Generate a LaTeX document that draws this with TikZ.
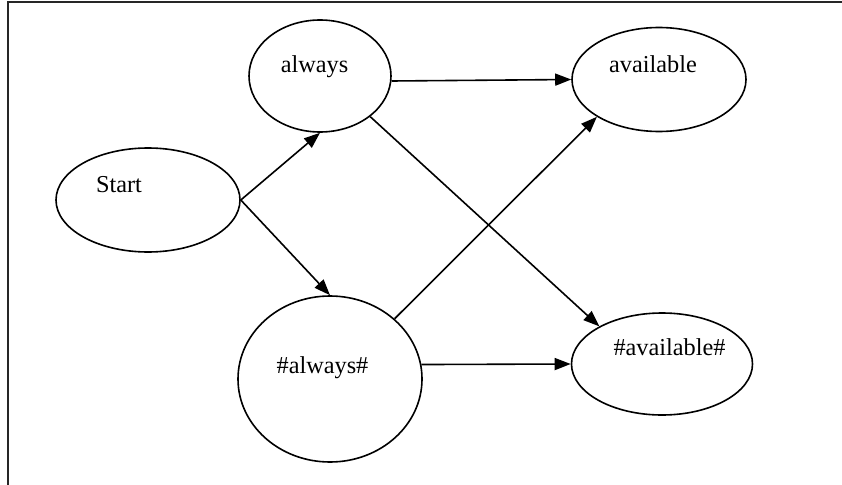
\documentclass[tikz,border=0pt]{standalone}
\usepackage{fontspec}
\setmainfont{Liberation Serif}
\usetikzlibrary{shapes.geometric,arrows.meta}
\tikzset{
  ell/.style={ellipse, draw=black, line width=1.6pt, inner sep=0pt},
  lbl/.style={anchor=base, inner sep=0pt, font=\fontsize{24.3}{29}\selectfont},
  arr/.style={line width=1.6pt, -{Triangle[length=16pt,width=12pt]}},
  frame/.style={line width=2.6pt, draw=black!85}
}
\begin{document}
\begin{tikzpicture}[x=1pt,y=-1pt]
\useasboundingbox (0,0) rectangle (842,484);
\draw[frame] (8,486) -- (8,2.2) -- (844,2.2);
\node[ell, minimum width=184pt, minimum height=104pt] (start) at (148,200) {};
\node[ell, minimum width=142pt, minimum height=112pt] (always) at (320,76) {};
\node[ell, minimum width=174pt, minimum height=104pt] (avail) at (659,79.5) {};
\node[ell, minimum width=184pt, minimum height=166pt] (alwaysh) at (330,379) {};
\node[ell, minimum width=181pt, minimum height=102pt] (availh) at (662,364) {};
\node[lbl] (tstart) at (119,192) {Start};
\node[lbl] (talways) at (314.5,72.3) {always};
\node[lbl] (tavail) at (653,72.7) {available};
\node[lbl] (talwaysh) at (322.5,373) {\#always\#};
\node[lbl] (tavailh) at (669.5,355.7) {\#available\#};
\draw[arr] (start.east) -- (always.south);
\draw[arr] (start.east) -- (alwaysh.north);
\draw[arr] (always.-4) -- (avail.west);
\draw[arr] (always.-39) -- (availh.149);
\draw[arr] (alwaysh.43) -- (avail.-149);
\draw[arr] (alwaysh.9) -- (availh.west);
\end{tikzpicture}
\end{document}
